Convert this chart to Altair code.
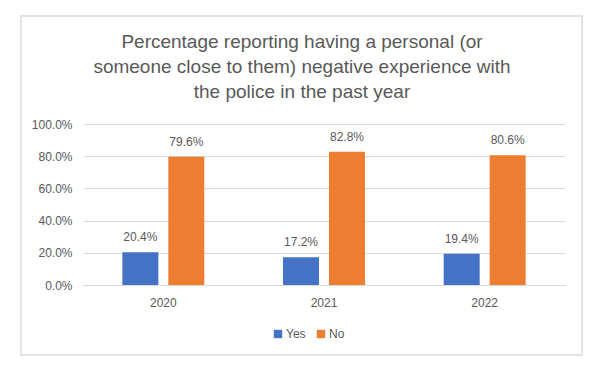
import altair as alt
import pandas as pd

years = ["2020", "2021", "2022"]
series = ["Yes", "No"]
yes_vals = [0.204, 0.172, 0.194]
no_vals = [0.796, 0.828, 0.806]
title_lines = ["Percentage reporting having a personal (or",
               "someone close to them) negative experience with",
               "the police in the past year"]

rows = []
for i, y in enumerate(years):
    rows.append({"year": y, "series": "Yes", "value": yes_vals[i]})
    rows.append({"year": y, "series": "No", "value": no_vals[i]})
df = pd.DataFrame(rows)

FONT = "Liberation Sans"
GREY = "#595959"

x_enc = alt.X("year:N", sort=years, title=None,
              scale=alt.Scale(paddingInner=0.49, paddingOuter=0.245),
              axis=alt.Axis(labelAngle=0, ticks=False, domain=True, domainColor="#D9D9D9",
                            labelPadding=12, labelFontSize=12, labelColor=GREY, labelFont=FONT))
xoff = alt.XOffset("series:N", sort=series, scale=alt.Scale(paddingInner=0.217, paddingOuter=0))
y_enc = alt.Y("value:Q", title=None,
              scale=alt.Scale(domain=[0, 1]),
              axis=alt.Axis(format=".1%", values=[0, 0.2, 0.4, 0.6, 0.8, 1.0], domain=False, ticks=False,
                            gridColor="#D9D9D9", labelPadding=11, labelFontSize=12,
                            labelColor=GREY, labelFont=FONT))
color_enc = alt.Color("series:N", sort=series,
                      scale=alt.Scale(domain=series, range=["#4472C4", "#ED7D31"]),
                      legend=alt.Legend(title=None, orient="none", direction="horizontal",
                                        legendX=189, legendY=204, symbolType="square",
                                        symbolSize=70, symbolStrokeWidth=0, labelFontSize=12,
                                        labelColor=GREY, labelFont=FONT, columnPadding=9,
                                        symbolOffset=0, labelOffset=2))

base = alt.Chart(df)

bars = base.mark_bar(size=36).encode(x=x_enc, xOffset=xoff, y=y_enc, color=color_enc)
labels = base.mark_text(baseline="bottom", dy=-8, fontSize=12, color=GREY, font=FONT).encode(
    x=x_enc, xOffset=xoff, y=y_enc, text=alt.Text("value:Q", format=".1%"))

deco = alt.Chart(pd.DataFrame({"a": [0]}))
border = deco.mark_rect(fill=None, stroke="#E3E3E3", strokeWidth=2).encode(
    x=alt.value(-62), x2=alt.value(499), y=alt.value(-108), y2=alt.value(231))
title = deco.mark_text(text=title_lines, lineHeight=25, baseline="middle", align="center",
                       fontSize=19, font=FONT, color=GREY).encode(
    x=alt.value(219), y=alt.value(-82))

chart = alt.layer(border, title, bars, labels).properties(
    width=482, height=161,
    autosize=alt.AutoSizeParams(type="none"),
    padding={"left": 83, "top": 124, "right": 35, "bottom": 91},
).configure(background="white").configure_view(stroke=None)

chart.save("out.html", embed_options={"renderer": "svg", "actions": False})
